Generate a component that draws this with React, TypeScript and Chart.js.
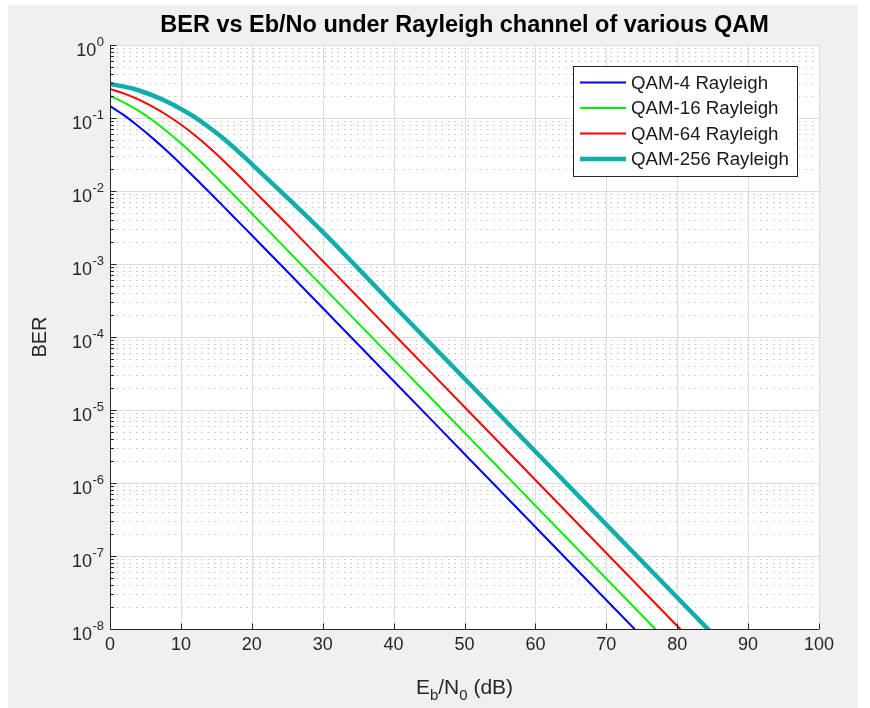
import React, { useEffect, useRef } from 'react';
import { Chart, registerables } from 'chart.js';

Chart.register(...registerables);

// ---- data ----
const ebNoDb = [0, 2, 4, 6, 8, 10, 12, 14, 16, 18, 20, 25, 30, 35, 40, 50, 60, 70, 80, 90, 100];
const berQam4 = [0.146, 0.1085, 0.0771, 0.053, 0.0355, 0.0233, 0.0151, 0.00966, 0.00616, 0.0039, 0.00248, 7.9e-4, 2.5e-4, 7.9e-5, 2.5e-5, 2.5e-6, 2.5e-7, 2.5e-8, 2.5e-9, 2.5e-10, 2.5e-11];
const berQam16 = [0.2, 0.162, 0.126, 0.0933, 0.066, 0.0452, 0.0299, 0.0193, 0.0123, 0.0078, 0.00492, 0.00155, 4.9e-4, 1.55e-4, 4.9e-5, 4.9e-6, 4.9e-7, 4.9e-8, 4.9e-9, 4.9e-10, 4.9e-11];
const berQam64 = [0.25, 0.216, 0.18, 0.143, 0.11, 0.0813, 0.0575, 0.0394, 0.026, 0.0168, 0.0107, 0.00347, 0.0011, 3.5e-4, 1.1e-4, 1.1e-5, 1.1e-6, 1.1e-7, 1.1e-8, 1.1e-9, 1.1e-10];
const berQam256 = [0.292, 0.269, 0.24, 0.204, 0.168, 0.133, 0.102, 0.0741, 0.0525, 0.0355, 0.0234, 0.0081, 0.00275, 8.7e-4, 2.7e-4, 2.7e-5, 2.7e-6, 2.7e-7, 2.7e-8, 2.7e-9, 2.7e-10];

const seriesLabels = ['QAM-4 Rayleigh', 'QAM-16 Rayleigh', 'QAM-64 Rayleigh', 'QAM-256 Rayleigh'];
const xTickValues = [0, 10, 20, 30, 40, 50, 60, 70, 80, 90, 100];
const yTickExponents = [0, -1, -2, -3, -4, -5, -6, -7, -8];

const titleText = 'BER vs Eb/No under Rayleigh channel of various QAM';
const yLabelText = 'BER';

const FONT = '"Liberation Sans", Arial, Helvetica, sans-serif';
const TEXT = '#262626';

const matlabPlugin = {
  id: 'matlabLook',
  beforeDraw(chart: any) {
    const { ctx, chartArea: a, scales } = chart;
    const xs = scales.x;
    const ys = scales.y;
    ctx.save();
    ctx.fillStyle = '#ffffff';
    ctx.fillRect(0, 0, chart.width, chart.height);
    ctx.fillStyle = '#f0f0f0';
    ctx.fillRect(8, 5, 850, chart.height - 5);
    ctx.fillStyle = '#ffffff';
    ctx.fillRect(a.left, a.top, a.right - a.left, a.bottom - a.top);

    // minor y grid (dotted)
    ctx.lineWidth = 1;
    ctx.strokeStyle = '#c2c2c2';
    ctx.setLineDash([1.5, 5]);
    for (let e = -8; e < 0; e++) {
      for (let k = 2; k <= 9; k++) {
        const py = Math.round(ys.getPixelForValue(k * Math.pow(10, e))) + 0.5;
        ctx.beginPath();
        ctx.moveTo(a.left, py);
        ctx.lineTo(a.right, py);
        ctx.stroke();
      }
    }
    ctx.setLineDash([]);
    // major grid
    ctx.strokeStyle = '#dcdcdc';
    yTickExponents.forEach((e) => {
      const py = Math.round(ys.getPixelForValue(Math.pow(10, e))) + 0.5;
      ctx.beginPath();
      ctx.moveTo(a.left, py);
      ctx.lineTo(a.right, py);
      ctx.stroke();
    });
    xTickValues.forEach((v) => {
      const px = Math.round(xs.getPixelForValue(v)) + 0.5;
      ctx.beginPath();
      ctx.moveTo(px, a.top);
      ctx.lineTo(px, a.bottom);
      ctx.stroke();
    });
    ctx.restore();
  },
  afterDatasetsDraw(chart: any) {
    const { ctx, chartArea: a, scales } = chart;
    const xs = scales.x;
    const ys = scales.y;
    ctx.save();
    const left = Math.round(a.left) + 0.5;
    const bottom = Math.round(a.bottom) + 0.5;

    // axes lines
    ctx.strokeStyle = TEXT;
    ctx.lineWidth = 1;
    ctx.beginPath();
    ctx.moveTo(left, a.top);
    ctx.lineTo(left, bottom);
    ctx.lineTo(a.right, bottom);
    ctx.stroke();

    // ticks
    ctx.beginPath();
    xTickValues.forEach((v) => {
      const px = Math.round(xs.getPixelForValue(v)) + 0.5;
      ctx.moveTo(px, bottom);
      ctx.lineTo(px, bottom - 6);
    });
    yTickExponents.forEach((e) => {
      const py = Math.round(ys.getPixelForValue(Math.pow(10, e))) + 0.5;
      ctx.moveTo(left, py);
      ctx.lineTo(left + 6, py);
    });
    for (let e = -8; e < 0; e++) {
      for (let k = 2; k <= 9; k++) {
        const py = Math.round(ys.getPixelForValue(k * Math.pow(10, e))) + 0.5;
        ctx.moveTo(left, py);
        ctx.lineTo(left + 3.5, py);
      }
    }
    ctx.stroke();

    // x tick labels
    ctx.fillStyle = TEXT;
    ctx.font = `18px ${FONT}`;
    ctx.textAlign = 'center';
    ctx.textBaseline = 'middle';
    xTickValues.forEach((v) => {
      ctx.fillText(String(v), xs.getPixelForValue(v), a.bottom + 16);
    });

    // y tick labels 10^e
    const labelRight = a.left - 6;
    yTickExponents.forEach((e) => {
      const py = ys.getPixelForValue(Math.pow(10, e));
      const expStr = e === 0 ? '0' : '-' + String(-e);
      ctx.font = `13px ${FONT}`;
      const ew = ctx.measureText(expStr).width;
      ctx.textAlign = 'left';
      ctx.textBaseline = 'alphabetic';
      ctx.fillText(expStr, labelRight - ew, py + 1);
      ctx.font = `18px ${FONT}`;
      ctx.textAlign = 'right';
      ctx.fillText('10', labelRight - ew - 0.5, py + 11);
    });

    // title
    ctx.font = `bold 23.5px ${FONT}`;
    ctx.textAlign = 'center';
    ctx.textBaseline = 'middle';
    ctx.fillStyle = '#000000';
    ctx.fillText(titleText, (a.left + a.right) / 2, 26);

    // y label
    ctx.fillStyle = TEXT;
    ctx.save();
    ctx.translate(40, (a.top + a.bottom) / 2);
    ctx.rotate(-Math.PI / 2);
    ctx.font = `20px ${FONT}`;
    ctx.textAlign = 'center';
    ctx.textBaseline = 'middle';
    ctx.fillText(yLabelText, 0, 0);
    ctx.restore();

    // x label with subscripts: E_b/N_0 (dB)
    const parts = [
      { t: 'E', sub: false },
      { t: 'b', sub: true },
      { t: '/N', sub: false },
      { t: '0', sub: true },
      { t: ' (dB)', sub: false },
    ];
    const mainFont = `21px ${FONT}`;
    const subFont = `15px ${FONT}`;
    let total = 0;
    parts.forEach((p) => {
      ctx.font = p.sub ? subFont : mainFont;
      total += ctx.measureText(p.t).width;
    });
    let cx = (a.left + a.right) / 2 - total / 2;
    ctx.textAlign = 'left';
    ctx.textBaseline = 'alphabetic';
    const base = 694;
    parts.forEach((p) => {
      ctx.font = p.sub ? subFont : mainFont;
      ctx.fillText(p.t, cx, p.sub ? base + 6 : base);
      cx += ctx.measureText(p.t).width;
    });

    // legend
    const lx = 573.5, ly = 66.5, lw = 224, lh = 110;
    ctx.fillStyle = '#ffffff';
    ctx.fillRect(lx, ly, lw, lh);
    ctx.strokeStyle = '#262626';
    ctx.lineWidth = 1;
    ctx.strokeRect(lx, ly, lw, lh);
    ctx.font = `18.7px ${FONT}`;
    ctx.textAlign = 'left';
    ctx.textBaseline = 'middle';
    chart.data.datasets.forEach((ds: any, i: number) => {
      const ry = 82.5 + i * 25.5;
      ctx.strokeStyle = ds.borderColor;
      ctx.lineWidth = ds.borderWidth;
      ctx.beginPath();
      ctx.moveTo(580, ry);
      ctx.lineTo(626, ry);
      ctx.stroke();
      ctx.fillStyle = '#1a1a1a';
      ctx.fillText(ds.label, 631, ry + 1);
    });
    ctx.restore();
  },
};

const seriesValues = [berQam4, berQam16, berQam64, berQam256];
const seriesColors = ['#0000ff', '#00ee00', '#ff0000', '#10adad'];
const seriesWidths = [2, 2, 2, 4.5];

export default function App() {
  const ref = useRef<HTMLCanvasElement | null>(null);

  useEffect(() => {
    if (!ref.current) return;
    const chart = new Chart(ref.current, {
      type: 'line',
      data: {
        datasets: seriesValues.map((vals, i) => ({
          label: seriesLabels[i],
          data: ebNoDb.map((x, j) => ({ x, y: vals[j] })),
          borderColor: seriesColors[i],
          backgroundColor: seriesColors[i],
          borderWidth: seriesWidths[i],
          pointRadius: 0,
          fill: false,
          cubicInterpolationMode: 'monotone' as const,
        })),
      },
      options: {
        animation: false,
        responsive: false,
        devicePixelRatio: 1,
        layout: { padding: { left: 110, top: 45, right: 51, bottom: 79 } },
        plugins: {
          legend: { display: false },
          tooltip: { enabled: false },
          title: { display: false },
        },
        scales: {
          x: { type: 'linear', min: 0, max: 100, display: false },
          y: { type: 'logarithmic', min: 1e-8, max: 1, display: false },
        },
      },
      plugins: [matlabPlugin],
    });
    return () => chart.destroy();
  }, []);

  return (
    <div style={{ position: 'absolute', left: 0, top: 0, width: 870, height: 708 }}>
      <canvas ref={ref} width={870} height={708} style={{ display: 'block', width: 870, height: 708 }} />
    </div>
  );
}
